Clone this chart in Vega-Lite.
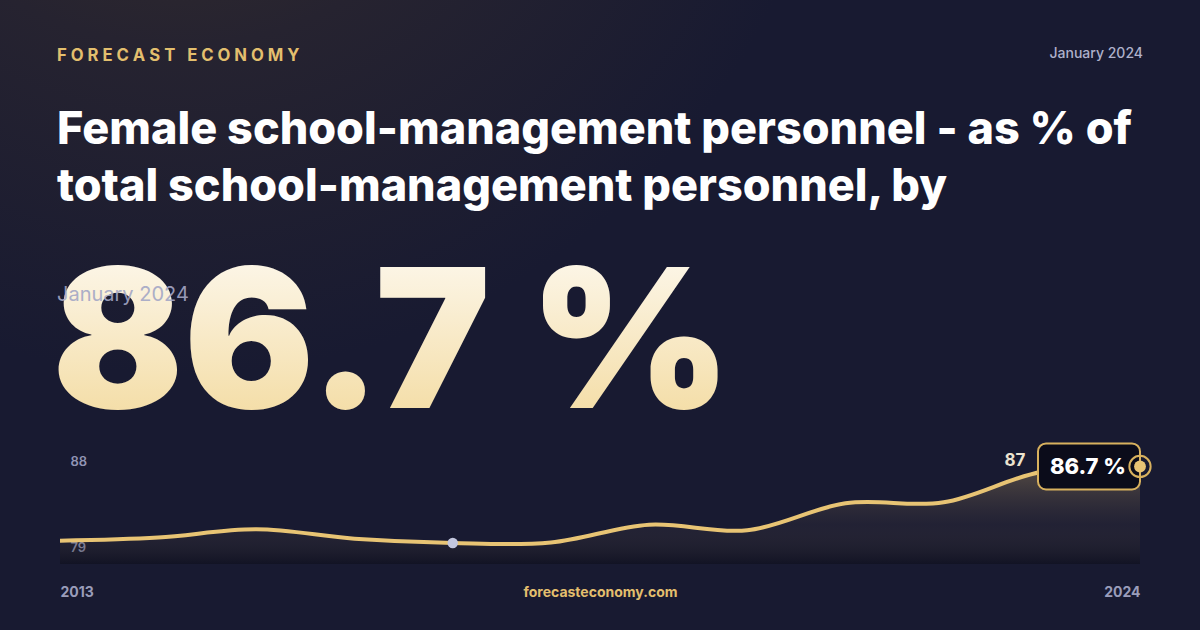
{
  "$schema": "https://vega.github.io/schema/vega-lite/v6.json",
  "width": 1200,
  "height": 630,
  "autosize": {"type": "fit", "contains": "padding"},
  "padding": 0,
  "background": "#181a31",
  "view": {
    "stroke": null,
    "fill": {
      "gradient": "radial",
      "x1": 0.15, "y1": 0.0, "r1": 0,
      "x2": 0.15, "y2": 0.0, "r2": 0.55,
      "stops": [
        {"offset": 0, "color": "#3d3229"},
        {"offset": 0.5, "color": "#262330"},
        {"offset": 1, "color": "#181a31"}
      ]
    }
  },
  "config": {
    "font": "Inter",
    "axis": {"grid": false, "domain": false, "ticks": false, "tickSize": 0}
  },
  "title": {
    "text": "F O R E C A S T\u00a0\u00a0\u00a0E C O N O M Y",
    "subtitle": [
      "Female school-management personnel - as % of",
      "total school-management personnel, by"
    ],
    "anchor": "start",
    "frame": "group",
    "orient": "top",
    "offset": -210,
    "dx": 57,
    "font": "Inter",
    "fontSize": 16.7,
    "fontWeight": 700,
    "color": "#e3bf6e",
    "subtitleFont": "Inter",
    "subtitleFontSize": 45,
    "subtitleFontWeight": 800,
    "subtitleColor": "#ffffff",
    "subtitleLineHeight": 57,
    "subtitlePadding": 43
  },
  "data": {
    "values": [
      {"year": 2013, "value": 80.84},
      {"year": 2014, "value": 81.09},
      {"year": 2015, "value": 81.74},
      {"year": 2016, "value": 81.0},
      {"year": 2017, "value": 80.66},
      {"year": 2018, "value": 80.7},
      {"year": 2019, "value": 82.1},
      {"year": 2020, "value": 81.66},
      {"year": 2021, "value": 83.79},
      {"year": 2022, "value": 83.87},
      {"year": 2023, "value": 86.29},
      {"year": 2024, "value": 86.7}
    ]
  },
  "encoding": {
    "x": {
      "field": "year",
      "type": "quantitative",
      "scale": {"domain": [2013, 2024], "range": [60, 1140], "nice": false, "zero": false},
      "axis": {
        "values": [2013, 2024],
        "format": "d",
        "labelFlush": true,
        "offset": -38,
        "labelPadding": 0,
        "labelBaseline": "middle",
        "labelColor": "#9a9dba",
        "labelFont": "Inter",
        "labelFontSize": 14,
        "labelFontWeight": 700,
        "title": "forecasteconomy.com",
        "titleY": 0,
        "titleBaseline": "middle",
        "titleColor": "#e3bf6e",
        "titleFont": "Inter",
        "titleFontSize": 14,
        "titleFontWeight": 700
      }
    },
    "y": {
      "field": "value",
      "type": "quantitative",
      "scale": {"domain": [79, 88], "range": [564, 450], "nice": false, "zero": false},
      "axis": {
        "values": [79, 88],
        "title": null,
        "labelAlign": "left",
        "labelPadding": -70,
        "labelBaseline": "middle",
        "labelOffset": {"condition": {"test": "datum.value == 88", "value": 11}, "value": -17},
        "labelColor": "#9094b4",
        "labelFont": "Inter",
        "labelFontSize": 13,
        "labelFontWeight": 600
      }
    }
  },
  "layer": [
    {
      "mark": {
        "type": "area",
        "interpolate": "cardinal",
        "fill": {
          "gradient": "linear",
          "x1": 0, "y1": 0, "x2": 0, "y2": 1,
          "stops": [
            {"offset": 0, "color": "rgba(232,193,112,0.30)"},
            {"offset": 0.6, "color": "rgba(120,100,80,0.10)"},
            {"offset": 1, "color": "rgba(6,6,12,0.35)"}
          ]
        }
      },
      "encoding": {"y2": {"datum": 79}}
    },
    {
      "mark": {"type": "line", "interpolate": "cardinal", "color": "#e8c474", "strokeWidth": 4}
    },
    {
      "transform": [
        {"joinaggregate": [{"op": "min", "field": "value", "as": "minValue"}]},
        {"filter": "datum.value == datum.minValue"}
      ],
      "mark": {"type": "point", "shape": "circle", "filled": true, "size": 110, "color": "#c3c7de", "opacity": 1}
    },
    {
      "transform": [
        {"joinaggregate": [{"op": "max", "field": "year", "as": "lastYear"}]},
        {"filter": "datum.year == datum.lastYear"},
        {"calculate": "format(datum.value, '.1f') + ' %'", "as": "label"},
        {"calculate": "'January ' + datum.year", "as": "period"}
      ],
      "layer": [
        {
          "mark": {"type": "text", "align": "center", "baseline": "middle", "dx": -125, "dy": -5, "font": "Inter", "fontSize": 17, "fontWeight": 700, "color": "#ece3cf"},
          "encoding": {"text": {"field": "value", "format": ".0f"}}
        },
        {
          "mark": {
            "type": "point",
            "shape": "M-1.843,-0.451L-0.157,-0.451A0.157,0.157,0,0,1,0,-0.294L0,0.294A0.157,0.157,0,0,1,-0.157,0.451L-1.843,0.451A0.157,0.157,0,0,1,-2,0.294L-2,-0.294A0.157,0.157,0,0,1,-1.843,-0.451Z",
            "size": 10404,
            "filled": true,
            "fill": "#0b0c1a",
            "stroke": "#d8b15e",
            "strokeWidth": 2,
            "opacity": 1
          }
        },
        {
          "mark": {"type": "text", "align": "center", "baseline": "middle", "dx": -52, "dy": 1, "font": "Inter", "fontSize": 22, "fontWeight": 800, "color": "#ffffff"},
          "encoding": {"text": {"field": "label"}}
        },
        {
          "mark": {"type": "point", "shape": "circle", "filled": false, "size": 452, "stroke": "#d8b15e", "strokeWidth": 2, "opacity": 1}
        },
        {
          "mark": {"type": "point", "shape": "circle", "filled": true, "size": 140, "color": "#e8c474", "opacity": 1}
        },
        {
          "mark": {
            "type": "text",
            "align": "left",
            "baseline": "alphabetic",
            "dx": -8,
            "dy": -42,
            "font": "Inter",
            "fontSize": 194,
            "fontWeight": 900,
            "fill": {
              "gradient": "linear",
              "x1": 0, "y1": 0, "x2": 0, "y2": 1,
              "stops": [
                {"offset": 0, "color": "#fefcf8"},
                {"offset": 1, "color": "#f2d796"}
              ]
            }
          },
          "encoding": {
            "x": {"datum": 2013},
            "y": {"datum": 88},
            "text": {"field": "label"}
          }
        },
        {
          "mark": {"type": "text", "align": "left", "baseline": "middle", "dx": -3, "dy": -155, "font": "Inter", "fontSize": 20, "fontWeight": 400, "color": "#a4a7c6", "opacity": 0.9},
          "encoding": {
            "x": {"datum": 2013},
            "y": {"datum": 88},
            "text": {"field": "period"}
          }
        },
        {
          "mark": {"type": "text", "align": "right", "baseline": "middle", "dx": 3, "dy": -396, "font": "Inter", "fontSize": 14, "fontWeight": 500, "color": "#aeb1cb"},
          "encoding": {
            "x": {"datum": 2024},
            "y": {"datum": 88},
            "text": {"field": "period"}
          }
        }
      ]
    }
  ]
}
